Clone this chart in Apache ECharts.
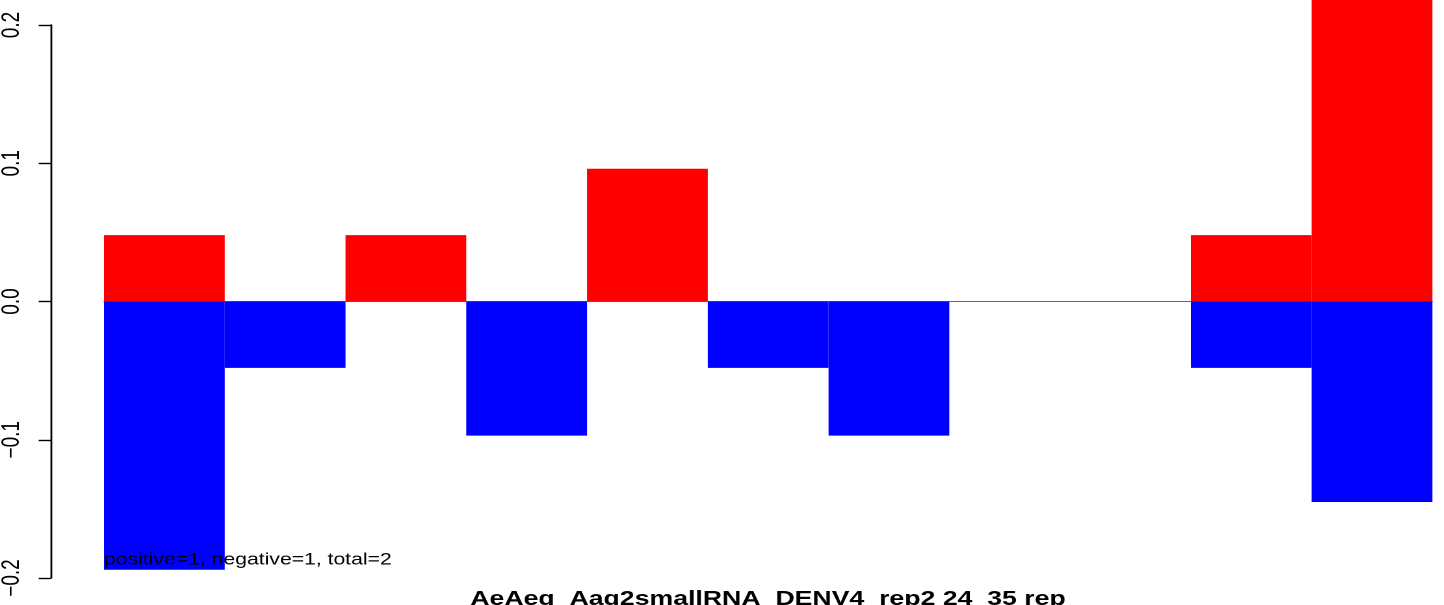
<!DOCTYPE html>
<html>
<head>
<meta charset="utf-8">
<script src="https://cdn.jsdelivr.net/npm/echarts@6/dist/echarts.min.js"></script>
<style>
html,body{margin:0;padding:0;background:#fff;overflow:hidden}
#wrap{width:1444px;height:605px;overflow:hidden}
#c{height:605px;transform-origin:0 0}
</style>
</head>
<body>
<div id="wrap"><div id="c"></div></div>
<script>
const categories = ["24","25","26","27","28","29","30","31","32","33","34"];
const positiveValues = [0.048, 0, 0.048, 0, 0.096, 0, 0, 0, 0, 0.048, 0.24];
const negativeValues = [-0.194, -0.048, 0, -0.097, 0, -0.048, -0.097, 0, 0, -0.048, -0.145];
const tickValues = [-0.2, -0.1, 0.0, 0.1, 0.2];
const tickLabels = ["\u22120.2", "\u22120.1", "0.0", "0.1", "0.2"];
const noteText = "positive=1, negative=1, total=2";
const mainTitle = "AeAeg_Aag2smallRNA_DENV4_rep2 24_35 rep";

// The reference raster is stretched horizontally; reproduce by a horizontal scale of the canvas.
const SX = 1.30;
const W = 1444 / SX;
const px = v => v / SX;   // screen x -> chart x
const el = document.getElementById('c');
el.style.width = W + 'px';
el.style.transform = 'scaleX(' + SX + ')';

const FONT = "Liberation Sans";
const chart = echarts.init(el, null, {renderer: 'canvas', devicePixelRatio: 2});
chart.setOption({
  animation: false,
  backgroundColor: '#fff',
  title: [
    {text: noteText, left: px(104), top: 552, textStyle: {fontFamily: FONT, fontSize: 16.3, fontWeight: 'normal', color: '#000'}, padding: 0},
    {text: mainTitle, left: px(768), textAlign: 'center', top: 589, textStyle: {fontFamily: FONT, fontSize: 20.5, fontWeight: 'bold', color: '#000'}, padding: 0}
  ],
  grid: [
    {left: px(104), right: px(12), top: 0, bottom: 27},
    {left: px(50), width: 10, top: 25, bottom: 27}
  ],
  xAxis: [
    {type: 'category', gridIndex: 0, data: categories, axisLine: {show: true, onZero: true, lineStyle: {color: '#666', width: 1}}, axisTick: {show: false}, axisLabel: {show: false}, splitLine: {show: false}},
    {type: 'value', gridIndex: 1, show: false}
  ],
  yAxis: [
    {type: 'value', gridIndex: 0, min: -0.2, max: 0.218, show: false, splitLine: {show: false}},
    {type: 'value', gridIndex: 1, min: -0.2, max: 0.2, interval: 0.1,
     axisLine: {show: true, lineStyle: {color: '#000', width: 1.4}},
     axisTick: {show: true, length: px(12), lineStyle: {color: '#000', width: 1.4}},
     splitLine: {show: false},
     axisLabel: {rotate: 90, margin: px(26), fontFamily: FONT, fontSize: 19, color: '#000',
       formatter: function (v) { const i = tickValues.findIndex(t => Math.abs(t - v) < 1e-9); return i >= 0 ? tickLabels[i] : ''; }}
    }
  ],
  series: [
    {type: 'bar', xAxisIndex: 0, yAxisIndex: 0, stack: 's', data: positiveValues, barWidth: '100%', barCategoryGap: '0%', itemStyle: {color: '#ff0000'}},
    {type: 'bar', xAxisIndex: 0, yAxisIndex: 0, stack: 's', data: negativeValues, barWidth: '100%', barCategoryGap: '0%', itemStyle: {color: '#0000ff'}}
  ]
});
</script>
</body>
</html>
